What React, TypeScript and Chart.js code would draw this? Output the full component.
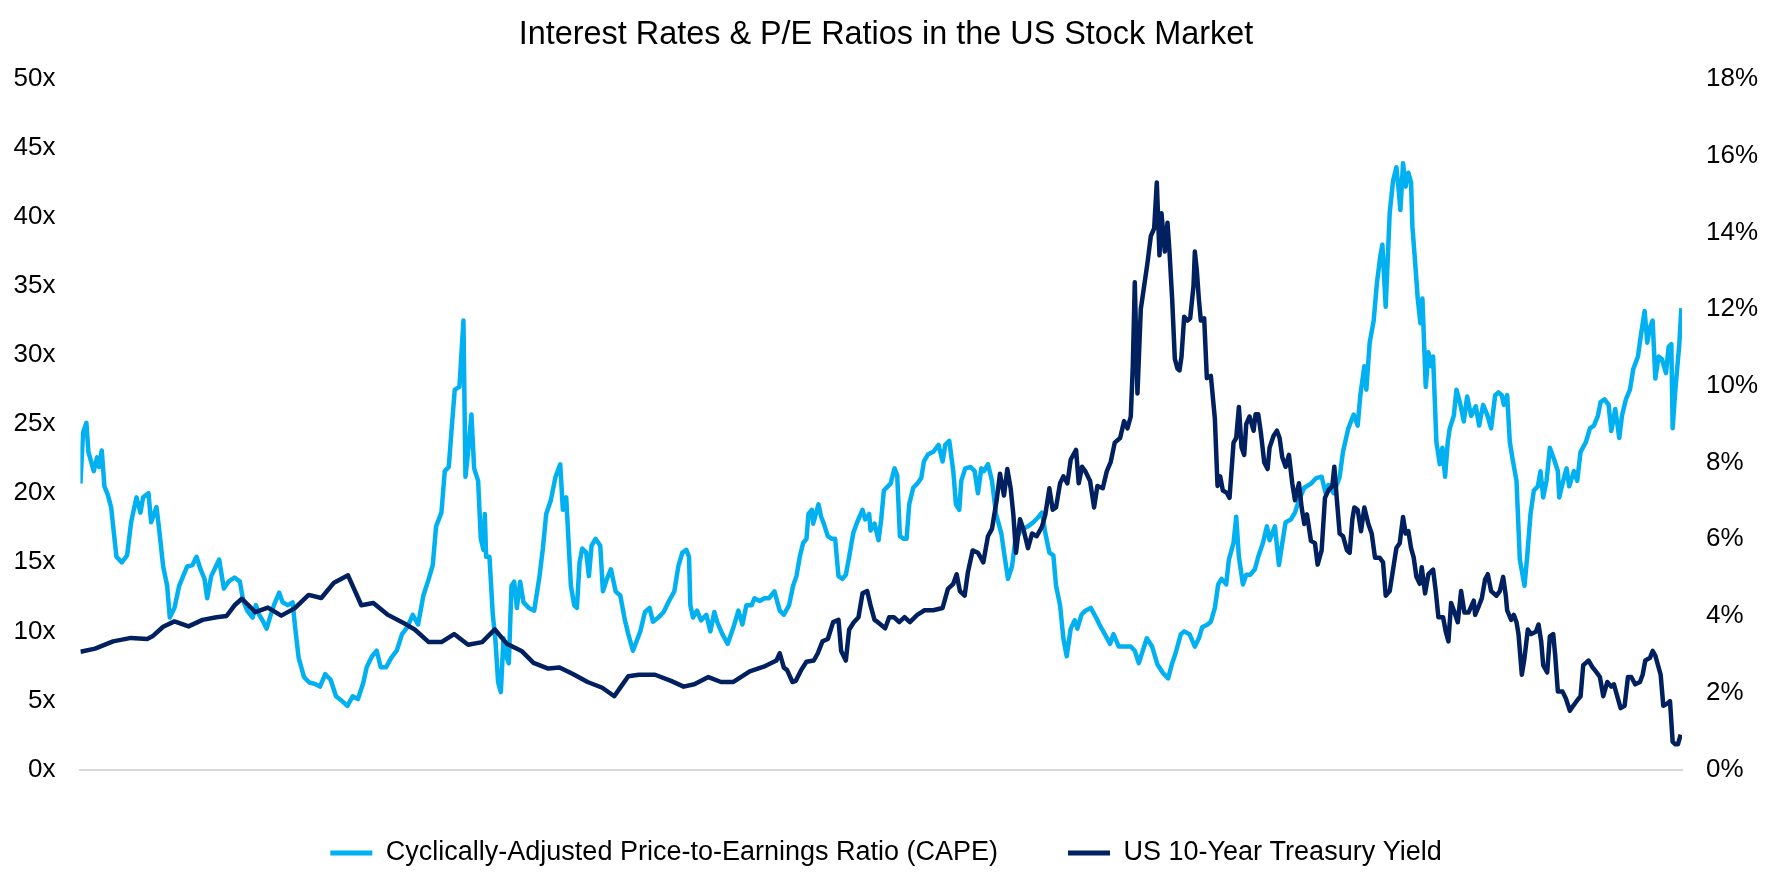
import React, { useEffect, useRef } from "react";
import { Chart, registerables } from "chart.js";

Chart.register(...registerables);

const TITLE = "Interest Rates & P/E Ratios in the US Stock Market";
const CAPE_LABEL = "Cyclically-Adjusted Price-to-Earnings Ratio (CAPE)";
const YIELD_LABEL = "US 10-Year Treasury Yield";

const xTickYears = [1900, 1910, 1920, 1930, 1940, 1950, 1960, 1970, 1980, 1990, 2000, 2010];
const leftTicks = [0, 5, 10, 15, 20, 25, 30, 35, 40, 45, 50];
const rightTicks = [0, 2, 4, 6, 8, 10, 12, 14, 16, 18];

const capeYears = [
  1900.0, 1900.2, 1900.45, 1900.6, 1901.0, 1901.25, 1901.4, 1901.6, 1901.8, 1902.05, 1902.3, 1902.7,
  1903.1, 1903.5, 1903.8, 1904.2, 1904.5, 1904.7, 1905.1, 1905.3, 1905.7, 1905.9, 1906.2, 1906.5,
  1906.7, 1907.05, 1907.4, 1907.7, 1908.0, 1908.4, 1908.7, 1909.0, 1909.3, 1909.5, 1909.8, 1910.15,
  1910.4, 1910.75, 1911.1, 1911.55, 1911.95, 1912.2, 1912.5, 1912.9, 1913.15, 1913.4, 1913.7, 1913.95,
  1914.2, 1914.5, 1914.9, 1915.15, 1915.55, 1915.9, 1916.1, 1916.35, 1916.75, 1917.15, 1917.55, 1917.95,
  1918.35, 1918.75, 1919.15, 1919.55, 1920.0, 1920.4, 1920.8, 1921.2, 1921.45, 1921.85, 1922.2, 1922.5,
  1922.9, 1923.3, 1923.7, 1924.1, 1924.5, 1924.9, 1925.3, 1925.7, 1926.1, 1926.4, 1926.65, 1927.05,
  1927.3, 1927.6, 1927.85, 1928.05, 1928.4, 1928.7, 1928.85, 1929.05, 1929.3, 1929.5, 1929.8, 1930.0,
  1930.2, 1930.3, 1930.4, 1930.65, 1930.9, 1931.1, 1931.3, 1931.5, 1931.7, 1931.9, 1932.1, 1932.3,
  1932.5, 1932.7, 1932.95, 1933.2, 1933.6, 1934.0, 1934.4, 1934.65, 1934.9, 1935.25, 1935.6, 1935.95,
  1936.15, 1936.4, 1936.75, 1937.0, 1937.2, 1937.4, 1937.6, 1937.9, 1938.1, 1938.3, 1938.6, 1938.95,
  1939.15, 1939.45, 1939.75, 1940.1, 1940.45, 1940.8, 1941.05, 1941.4, 1941.6, 1941.95, 1942.3, 1942.65,
  1942.9, 1943.3, 1943.7, 1944.1, 1944.5, 1944.8, 1945.1, 1945.4, 1945.6, 1945.7, 1945.9, 1946.2,
  1946.5, 1946.9, 1947.2, 1947.5, 1947.7, 1948.1, 1948.5, 1948.9, 1949.3, 1949.6, 1949.9, 1950.3,
  1950.5, 1950.9, 1951.25, 1951.6, 1952.0, 1952.4, 1952.7, 1953.1, 1953.4, 1953.65, 1953.9, 1954.15,
  1954.4, 1954.55, 1954.8, 1954.9, 1955.3, 1955.5, 1955.7, 1956.0, 1956.3, 1956.55, 1956.8, 1957.1,
  1957.35, 1957.6, 1957.9, 1958.2, 1958.6, 1958.8, 1959.1, 1959.2, 1959.5, 1959.8, 1960.0, 1960.2,
  1960.5, 1960.7, 1961.0, 1961.2, 1961.4, 1961.7, 1961.9, 1962.1, 1962.4, 1962.7, 1963.0, 1963.2,
  1963.5, 1963.9, 1964.3, 1964.6, 1964.8, 1965.1, 1965.4, 1965.6, 1965.85, 1966.0, 1966.3, 1966.7,
  1967.0, 1967.25, 1967.5, 1967.7, 1968.0, 1968.3, 1968.6, 1969.0, 1969.25, 1969.5, 1969.8, 1970.05,
  1970.45, 1971.0, 1971.4, 1971.8, 1972.05, 1972.3, 1972.6, 1972.9, 1973.1, 1973.4, 1973.65, 1973.9,
  1974.2, 1974.5, 1974.7, 1975.0, 1975.3, 1975.7, 1976.1, 1976.35, 1976.75, 1977.15, 1977.4, 1977.8,
  1978.2, 1978.7, 1979.0, 1979.3, 1979.9, 1980.3, 1980.7, 1981.1, 1981.5, 1981.8, 1982.05, 1982.45,
  1982.7, 1983.1, 1983.5, 1983.8, 1984.05, 1984.45, 1984.7, 1985.0, 1985.25, 1985.5, 1985.85, 1986.05,
  1986.4, 1986.6, 1986.8, 1987.1, 1987.35, 1987.65, 1988.0, 1988.25, 1988.6, 1988.9, 1989.1, 1989.5,
  1989.8, 1990.05, 1990.3, 1990.7, 1991.0, 1991.3, 1991.7, 1992.2, 1992.6, 1993.0, 1993.3, 1993.5,
  1993.9, 1994.35, 1994.6, 1995.0, 1995.4, 1995.7, 1995.9, 1996.2, 1996.35, 1996.6, 1996.9, 1997.15,
  1997.4, 1997.55, 1997.8, 1998.1, 1998.35, 1998.6, 1998.75, 1998.9, 1999.1, 1999.3, 1999.5, 1999.7,
  1999.8, 2000.0, 2000.2, 2000.4, 2000.55, 2000.8, 2001.0, 2001.2, 2001.35, 2001.6, 2001.85, 2002.05,
  2002.25, 2002.45, 2002.6, 2002.9, 2003.1, 2003.4, 2003.65, 2003.9, 2004.2, 2004.55, 2004.8, 2005.1,
  2005.4, 2005.7, 2006.0, 2006.25, 2006.5, 2006.65, 2006.9, 2007.1, 2007.3, 2007.6, 2007.85, 2008.2,
  2008.4, 2008.65, 2008.9, 2009.2, 2009.4, 2009.6, 2009.85, 2010.1, 2010.4, 2010.7, 2010.8, 2011.1,
  2011.35, 2011.55, 2011.9, 2012.15, 2012.4, 2012.8, 2013.1, 2013.4, 2013.7, 2013.9, 2014.2, 2014.5,
  2014.7, 2015.0, 2015.3, 2015.5, 2015.8, 2016.1, 2016.35, 2016.7, 2016.9, 2017.2, 2017.4, 2017.6,
  2017.8, 2018.0, 2018.25, 2018.5, 2018.8, 2019.0, 2019.2, 2019.3, 2019.5, 2019.8, 2019.95,
];

const capeValues = [
  20.7, 24.4, 25.1, 23.0, 21.6, 22.6, 21.9, 23.1, 20.5, 19.9, 19.0, 15.4,
  15.0, 15.5, 17.9, 19.7, 18.6, 19.7, 20.0, 17.9, 19.0, 17.4, 14.7, 13.3,
  11.0, 11.7, 13.3, 14.0, 14.7, 14.8, 15.4, 14.5, 13.8, 12.4, 14.0, 14.7,
  15.2, 13.1, 13.6, 13.9, 13.6, 12.2, 11.5, 11.0, 11.9, 11.2, 10.7, 10.2,
  11.0, 11.9, 12.8, 12.1, 11.9, 12.1, 10.2, 8.1, 6.7, 6.3, 6.2, 6.0,
  6.9, 6.5, 5.3, 5.0, 4.6, 5.3, 5.1, 6.3, 7.4, 8.2, 8.6, 7.4,
  7.4, 8.1, 8.6, 9.8, 10.3, 11.2, 10.5, 12.6, 13.8, 14.8, 17.6, 18.6,
  21.6, 21.9, 25.1, 27.5, 27.7, 32.5, 21.2, 23.0, 25.7, 21.8, 20.9, 16.7,
  15.9, 18.5, 15.4, 15.4, 11.2, 9.3, 6.3, 5.6, 9.5, 8.2, 7.7, 13.3,
  13.6, 11.7, 13.6, 12.1, 11.7, 11.5, 14.0, 16.0, 18.5, 19.5, 21.2, 22.1,
  18.8, 19.7, 13.3, 11.9, 11.7, 15.0, 16.0, 15.7, 14.0, 16.2, 16.7, 16.2,
  12.9, 13.8, 14.5, 12.9, 12.6, 10.8, 9.8, 8.6, 9.1, 10.0, 11.4, 11.7,
  10.7, 11.0, 11.4, 12.2, 12.9, 14.7, 15.7, 15.9, 15.4, 11.9, 11.0, 11.5,
  10.8, 11.2, 10.0, 11.4, 10.7, 9.8, 9.1, 10.2, 11.5, 10.5, 11.9, 11.9,
  12.4, 12.2, 12.4, 12.4, 12.9, 11.5, 11.2, 11.9, 13.3, 14.0, 15.4, 16.4,
  16.7, 18.5, 18.8, 17.8, 19.2, 18.3, 17.8, 16.9, 16.7, 16.7, 14.0, 13.8,
  14.1, 15.4, 17.1, 17.9, 18.8, 18.1, 18.5, 17.3, 17.8, 16.6, 18.1, 20.2,
  20.5, 20.7, 21.8, 21.3, 16.9, 16.7, 16.7, 19.2, 20.4, 20.7, 21.1, 22.3,
  22.8, 23.0, 23.5, 22.3, 23.5, 23.8, 21.6, 19.2, 18.8, 20.9, 21.8, 21.9,
  21.6, 20.0, 21.8, 21.6, 22.1, 20.9, 18.5, 17.1, 15.4, 13.8, 14.7, 16.6,
  17.3, 17.6, 17.9, 18.3, 18.6, 17.1, 15.7, 15.5, 13.3, 11.9, 9.5, 8.2,
  10.2, 10.8, 10.2, 11.2, 11.5, 11.7, 11.0, 10.5, 9.8, 9.1, 9.8, 8.9,
  8.9, 8.9, 8.6, 7.7, 9.5, 8.9, 7.6, 7.0, 6.6, 7.7, 8.4, 9.8,
  10.0, 9.8, 8.9, 9.5, 10.3, 10.5, 10.7, 11.7, 13.4, 13.8, 13.4, 15.2,
  16.4, 18.3, 15.4, 13.4, 14.1, 14.1, 14.5, 15.4, 16.4, 17.6, 16.6, 17.6,
  14.8, 16.4, 17.9, 18.1, 18.6, 19.5, 20.4, 20.7, 21.1, 21.2, 20.0, 20.6,
  20.0, 21.2, 23.0, 24.7, 25.7, 24.9, 27.1, 29.2, 27.5, 30.9, 32.5, 35.3,
  37.2, 38.0, 33.5, 40.3, 42.6, 43.6, 42.2, 40.5, 43.9, 42.2, 43.2, 42.5,
  39.3, 36.8, 34.1, 32.3, 34.1, 27.7, 30.2, 29.2, 29.9, 23.7, 22.1, 23.3,
  21.2, 23.7, 24.7, 25.6, 27.5, 26.4, 25.2, 27.0, 25.6, 26.3, 24.9, 26.4,
  25.7, 24.7, 27.1, 27.3, 27.1, 26.4, 27.1, 23.7, 22.5, 20.9, 15.2, 13.3,
  15.4, 18.5, 20.2, 20.5, 21.6, 19.7, 20.9, 23.3, 22.5, 21.6, 19.7, 20.9,
  21.8, 20.5, 21.6, 20.9, 23.0, 23.7, 24.7, 24.9, 25.6, 26.6, 26.8, 26.4,
  24.5, 26.1, 24.0, 25.6, 26.8, 27.5, 29.0, 29.9, 31.3, 33.2, 30.9, 32.0,
  32.5, 28.3, 29.9, 29.7, 28.7, 30.6, 30.8, 24.7, 27.5, 30.8, 33.4,
];

const yieldYears = [
  1900.0, 1901.1, 1902.45, 1903.8, 1905.0, 1905.4, 1906.2, 1907.05, 1908.1, 1909.15, 1910.2, 1910.95,
  1911.55, 1912.1, 1913.1, 1914.05, 1915.05, 1916.05, 1917.1, 1918.05, 1919.0, 1920.05, 1921.05, 1921.95,
  1923.05, 1924.1, 1925.05, 1926.1, 1927.05, 1928.0, 1929.05, 1930.1, 1931.05, 1931.95, 1933.05, 1933.95,
  1935.05, 1935.9, 1936.9, 1938.0, 1939.1, 1940.0, 1940.5, 1941.05, 1941.85, 1943.05, 1944.25, 1945.2,
  1946.0, 1947.05, 1948.0, 1948.9, 1950.15, 1951.2, 1952.15, 1952.4, 1952.7, 1952.95, 1953.35, 1953.6,
  1954.0, 1954.4, 1954.95, 1955.25, 1955.6, 1956.0, 1956.4, 1956.8, 1957.0, 1957.35, 1957.6, 1957.95,
  1958.3, 1958.6, 1958.95, 1959.2, 1959.5, 1959.75, 1960.3, 1960.6, 1960.95, 1961.35, 1961.75, 1962.15,
  1962.7, 1963.25, 1963.9, 1964.6, 1965.0, 1965.4, 1965.65, 1965.9, 1966.25, 1966.5, 1966.85, 1967.25,
  1967.65, 1968.0, 1968.3, 1968.65, 1968.9, 1969.2, 1969.45, 1969.7, 1969.9, 1970.1, 1970.4, 1970.65,
  1971.0, 1971.3, 1971.65, 1972.05, 1972.3, 1972.6, 1972.85, 1973.1, 1973.4, 1973.65, 1973.95, 1974.2,
  1974.6, 1974.8, 1975.05, 1975.3, 1975.65, 1975.95, 1976.2, 1976.6, 1976.9, 1977.2, 1977.5, 1977.9,
  1978.2, 1978.45, 1978.7, 1978.85, 1979.0, 1979.2, 1979.45, 1979.7, 1979.95, 1980.2, 1980.45, 1980.65,
  1980.85, 1981.0, 1981.25, 1981.45, 1981.6, 1981.8, 1982.0, 1982.2, 1982.35, 1982.5, 1982.7, 1982.95,
  1983.15, 1983.4, 1983.5, 1983.65, 1983.8, 1983.95, 1984.2, 1984.4, 1984.7, 1985.0, 1985.2, 1985.4,
  1985.6, 1985.9, 1986.1, 1986.4, 1986.6, 1986.8, 1987.0, 1987.2, 1987.35, 1987.6, 1987.9, 1988.05,
  1988.25, 1988.45, 1988.7, 1988.95, 1989.1, 1989.4, 1989.65, 1989.85, 1990.05, 1990.3, 1990.55, 1990.8,
  1991.0, 1991.3, 1991.5, 1991.7, 1991.9, 1992.2, 1992.5, 1992.7, 1993.0, 1993.25, 1993.5, 1993.8,
  1993.95, 1994.1, 1994.35, 1994.6, 1994.9, 1995.1, 1995.3, 1995.45, 1995.7, 1995.95, 1996.2, 1996.5,
  1996.75, 1997.0, 1997.35, 1997.6, 1997.8, 1998.1, 1998.35, 1998.6, 1998.85, 1999.1, 1999.3, 1999.5,
  1999.7, 1999.9, 2000.1, 2000.35, 2000.5, 2000.75, 2001.0, 2001.35, 2001.55, 2001.75, 2002.1, 2002.3,
  2002.5, 2002.7, 2002.9, 2003.2, 2003.45, 2003.7, 2004.0, 2004.4, 2004.5, 2004.8, 2005.0, 2005.25,
  2005.45, 2005.7, 2006.1, 2006.35, 2006.6, 2006.8, 2006.9, 2007.2, 2007.4, 2007.6, 2007.75, 2008.0,
  2008.2, 2008.45, 2008.7, 2009.05, 2009.25, 2009.45, 2009.6, 2009.9, 2010.1, 2010.35, 2010.5, 2010.7,
  2011.05, 2011.3, 2011.6, 2011.85, 2012.1, 2012.4, 2012.6, 2012.8, 2013.0, 2013.3, 2013.6, 2013.85,
  2014.1, 2014.4, 2014.7, 2014.9, 2015.2, 2015.4, 2015.7, 2015.95, 2016.2, 2016.5, 2016.85, 2017.05,
  2017.25, 2017.6, 2017.8, 2018.0, 2018.2, 2018.4, 2018.6, 2018.9, 2019.1, 2019.3, 2019.5, 2019.7,
  2019.9,
];

const yieldValues = [
  3.07, 3.15, 3.34, 3.43, 3.40, 3.47, 3.72, 3.86, 3.73, 3.90, 3.97, 4.00,
  4.28, 4.45, 4.10, 4.22, 4.01, 4.20, 4.55, 4.47, 4.87, 5.06, 4.28, 4.34,
  4.03, 3.84, 3.65, 3.32, 3.32, 3.53, 3.25, 3.32, 3.65, 3.28, 3.09, 2.78,
  2.63, 2.66, 2.49, 2.28, 2.13, 1.91, 2.16, 2.43, 2.47, 2.47, 2.31, 2.16,
  2.22, 2.41, 2.28, 2.28, 2.56, 2.68, 2.84, 3.03, 2.66, 2.59, 2.28, 2.31,
  2.59, 2.81, 2.84, 3.03, 3.34, 3.40, 3.84, 3.90, 3.09, 2.84, 3.65, 3.84,
  3.97, 4.59, 4.65, 4.28, 3.90, 3.84, 3.68, 3.97, 3.97, 3.84, 3.97, 3.84,
  4.03, 4.15, 4.15, 4.21, 4.71, 4.84, 5.09, 4.65, 4.53, 5.15, 5.71, 5.65,
  5.40, 6.08, 6.27, 7.02, 7.71, 7.14, 7.83, 7.33, 6.65, 5.65, 6.52, 6.27,
  5.77, 6.15, 6.08, 6.33, 6.65, 7.33, 6.77, 6.83, 7.46, 7.64, 7.46, 8.08,
  8.33, 7.46, 7.89, 7.77, 7.52, 6.83, 7.39, 7.33, 7.77, 8.02, 8.52, 8.64,
  9.08, 8.89, 9.20, 10.5, 12.7, 9.8, 12.0, 12.6, 13.2, 13.9, 14.1, 15.3,
  13.4, 14.5, 13.5, 14.25, 13.5, 12.26, 10.7, 10.45, 10.4, 10.76, 11.8, 11.7,
  11.76, 12.6, 13.5, 13.0, 12.26, 11.7, 11.76, 10.2, 10.26, 9.14, 7.39, 7.64,
  7.27, 7.21, 7.08, 8.52, 8.64, 9.45, 8.39, 8.2, 9.0, 9.2, 8.83, 9.26,
  9.26, 8.77, 8.0, 7.83, 8.39, 8.7, 8.83, 8.64, 8.14, 7.89, 8.2, 7.46,
  7.02, 7.46, 6.83, 6.4, 6.65, 5.96, 5.9, 5.34, 5.71, 7.08, 7.27, 7.39,
  7.89, 7.21, 6.15, 6.08, 5.71, 5.65, 6.52, 6.83, 6.77, 6.21, 6.83, 6.4,
  6.15, 5.52, 5.52, 5.4, 4.53, 4.65, 5.21, 5.77, 5.9, 6.58, 6.15, 6.21,
  5.77, 5.52, 5.02, 4.84, 5.27, 4.59, 5.09, 5.21, 4.65, 3.97, 3.97, 3.59,
  3.34, 4.34, 4.15, 3.84, 4.65, 4.09, 4.09, 4.4, 4.03, 4.28, 4.46, 4.96,
  5.09, 4.65, 4.53, 4.65, 5.02, 4.53, 4.15, 3.9, 4.03, 3.84, 3.53, 2.47,
  2.91, 3.65, 3.53, 3.59, 3.78, 3.34, 2.72, 2.53, 3.47, 3.53, 2.97, 2.03,
  2.03, 1.85, 1.53, 1.66, 1.78, 1.91, 2.72, 2.78, 2.84, 2.66, 2.53, 2.41,
  1.91, 2.28, 2.16, 2.22, 1.85, 1.6, 1.66, 2.41, 2.41, 2.22, 2.28, 2.47,
  2.84, 2.91, 3.09, 2.97, 2.72, 2.47, 1.66, 1.72, 1.78, 0.72, 0.66, 0.66,
  0.91,
];

const CAPE_COLOR = "#00B0F0";
const YIELD_COLOR = "#002060";
const FONT_FAMILY = '"Liberation Sans", Arial, Helvetica, sans-serif';

export default function App() {
  const canvasRef = useRef<HTMLCanvasElement | null>(null);

  useEffect(() => {
    const canvas = canvasRef.current;
    if (!canvas) return;

    const capeData = capeYears.map((x, i) => ({ x, y: capeValues[i] }));
    const yieldData = yieldYears.map((x, i) => ({ x, y: yieldValues[i] }));

    const chart = new Chart(canvas, {
      type: "line",
      data: {
        datasets: [
          {
            label: CAPE_LABEL,
            data: capeData,
            borderColor: CAPE_COLOR,
            backgroundColor: CAPE_COLOR,
            borderWidth: 4.5,
            pointRadius: 0,
            tension: 0,
            borderJoinStyle: "round",
            yAxisID: "y",
            order: 1,
          },
          {
            label: YIELD_LABEL,
            data: yieldData,
            borderColor: YIELD_COLOR,
            backgroundColor: YIELD_COLOR,
            borderWidth: 4.5,
            pointRadius: 0,
            tension: 0,
            borderJoinStyle: "round",
            yAxisID: "y1",
            order: 0,
          },
        ],
      },
      options: {
        responsive: false,
        animation: false,
        devicePixelRatio: 1,
        layout: { padding: { left: 0, right: 0, top: 0, bottom: 8.5 } },
        plugins: {
          title: {
            display: true,
            text: TITLE,
            color: "#000000",
            font: { family: FONT_FAMILY, size: 32.4, weight: "normal" },
            padding: { top: 16, bottom: 24 },
          },
          legend: {
            position: "bottom",
            labels: {
              boxWidth: 42,
              boxHeight: 5,
              padding: 70,
              color: "#000000",
              font: { family: FONT_FAMILY, size: 27 },
              sort: (a: any, b: any) => a.datasetIndex - b.datasetIndex,
              generateLabels: (c: any) =>
                Chart.defaults.plugins.legend.labels
                  .generateLabels(c)
                  .map((l: any) => ({ ...l, lineWidth: 0, fillStyle: l.strokeStyle })),
            },
          },
          tooltip: { enabled: false },
        },
        scales: {
          x: {
            type: "linear",
            min: 1900,
            max: 2020,
            afterBuildTicks: (s: any) => {
              s.ticks = xTickYears.map((v) => ({ value: v }));
            },
            ticks: {
              color: "#000000",
              font: { family: FONT_FAMILY, size: 26 },
              padding: 18,
              maxRotation: 0,
              autoSkip: false,
              callback: (v: any) => String(v),
            },
            grid: { display: false, drawTicks: false },
            border: { display: true, color: "#D9D9D9", width: 2 },
            afterFit: (s: any) => {
              s.height = 0;
            },
          },
          y: {
            position: "left",
            min: 0,
            max: 50,
            afterBuildTicks: (s: any) => {
              s.ticks = leftTicks.map((v) => ({ value: v }));
            },
            ticks: {
              color: "#000000",
              font: { family: FONT_FAMILY, size: 26 },
              padding: 25,
              callback: (v: any) => v + "x",
            },
            grid: { display: false, drawTicks: false },
            border: { display: false },
            afterFit: (s: any) => {
              s.width = 80.4;
            },
          },
          y1: {
            position: "right",
            min: 0,
            max: 18,
            afterBuildTicks: (s: any) => {
              s.ticks = rightTicks.map((v) => ({ value: v }));
            },
            ticks: {
              color: "#000000",
              font: { family: FONT_FAMILY, size: 26 },
              padding: 24,
              callback: (v: any) => v + "%",
            },
            grid: { display: false, drawTicks: false },
            border: { display: false },
            afterFit: (s: any) => {
              s.width = 90;
            },
          },
        },
      },
    });

    return () => {
      chart.destroy();
    };
  }, []);

  return (
    <div
      style={{
        position: "fixed",
        left: 0,
        top: 0,
        width: 1772,
        height: 885,
        background: "#ffffff",
      }}
    >
      <canvas ref={canvasRef} width={1772} height={885} style={{ display: "block" }} />
    </div>
  );
}
